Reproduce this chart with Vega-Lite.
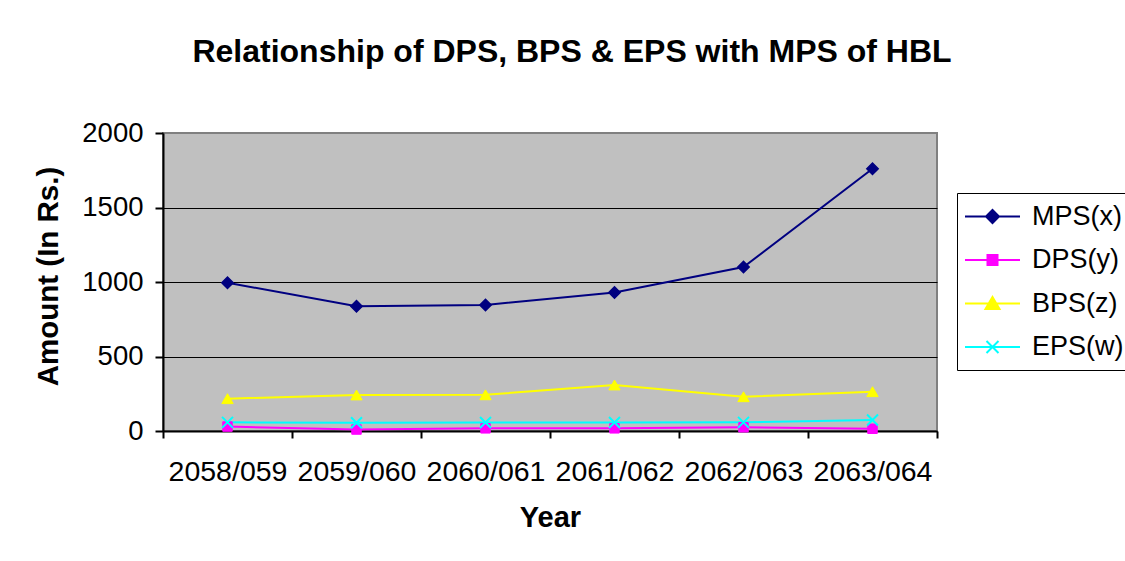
{
  "$schema": "https://vega.github.io/schema/vega-lite/v6.json",
  "width": 774,
  "height": 298,
  "autosize": {"type": "none"},
  "padding": {"left": 163, "top": 133, "right": 188, "bottom": 130},
  "background": "white",
  "title": {
    "text": "Relationship of DPS, BPS & EPS with MPS of HBL",
    "font": "Liberation Sans",
    "fontSize": 32,
    "fontWeight": "bold",
    "color": "black",
    "anchor": "middle",
    "frame": "group",
    "dx": 22,
    "offset": 50
  },
  "data": {
    "values": [
      {"year": "2058/059", "series": "MPS(x)", "value": 995},
      {"year": "2059/060", "series": "MPS(x)", "value": 837},
      {"year": "2060/061", "series": "MPS(x)", "value": 846},
      {"year": "2061/062", "series": "MPS(x)", "value": 930},
      {"year": "2062/063", "series": "MPS(x)", "value": 1100},
      {"year": "2063/064", "series": "MPS(x)", "value": 1760},
      {"year": "2058/059", "series": "DPS(y)", "value": 30},
      {"year": "2059/060", "series": "DPS(y)", "value": 10},
      {"year": "2060/061", "series": "DPS(y)", "value": 18},
      {"year": "2061/062", "series": "DPS(y)", "value": 18},
      {"year": "2062/063", "series": "DPS(y)", "value": 25},
      {"year": "2063/064", "series": "DPS(y)", "value": 15},
      {"year": "2058/059", "series": "BPS(z)", "value": 217},
      {"year": "2059/060", "series": "BPS(z)", "value": 242},
      {"year": "2060/061", "series": "BPS(z)", "value": 243},
      {"year": "2061/062", "series": "BPS(z)", "value": 309},
      {"year": "2062/063", "series": "BPS(z)", "value": 230},
      {"year": "2063/064", "series": "BPS(z)", "value": 264},
      {"year": "2058/059", "series": "EPS(w)", "value": 58},
      {"year": "2059/060", "series": "EPS(w)", "value": 55},
      {"year": "2060/061", "series": "EPS(w)", "value": 57},
      {"year": "2061/062", "series": "EPS(w)", "value": 57},
      {"year": "2062/063", "series": "EPS(w)", "value": 58},
      {"year": "2063/064", "series": "EPS(w)", "value": 74}
    ]
  },
  "encoding": {
    "x": {
      "field": "year",
      "type": "nominal",
      "sort": null,
      "scale": {"type": "band", "paddingInner": 0, "paddingOuter": 0},
      "title": "Year",
      "axis": {
        "labelAngle": 0,
        "tickBand": "extent",
        "grid": false,
        "domainColor": "black",
        "domainWidth": 2,
        "tickColor": "black",
        "tickWidth": 2,
        "tickSize": 7,
        "labelFontSize": 28.5,
        "labelPadding": 19,
        "titleFontSize": 29,
        "titlePadding": 18
      }
    },
    "y": {
      "field": "value",
      "type": "quantitative",
      "scale": {"domain": [0, 2000], "nice": false},
      "title": "Amount (In Rs.)",
      "axis": {
        "values": [0, 500, 1000, 1500, 2000],
        "format": "d",
        "grid": true,
        "gridColor": {"condition": {"test": "datum.value == 2000", "value": "#808080"}, "value": "black"},
        "gridWidth": 1,
        "domainColor": "black",
        "domainWidth": 2,
        "tickColor": "black",
        "tickWidth": 2,
        "tickSize": 8,
        "labelFontSize": 27.5,
        "labelPadding": 12,
        "titleFontSize": 29.5,
        "titlePadding": 18,
        "titleY": 143
      }
    },
    "color": {
      "field": "series",
      "type": "nominal",
      "sort": null,
      "scale": {"domain": ["MPS(x)", "DPS(y)", "BPS(z)", "EPS(w)"], "range": ["#000080", "#FF00FF", "#FFFF00", "#00FFFF"]},
      "legend": {
        "orient": "none",
        "legendX": 794,
        "legendY": 60,
        "title": null,
        "strokeColor": "black",
        "padding": 10,
        "labelFontSize": 27,
        "labelColor": "black",
        "symbolSize": 400,
        "symbolOffset": 12,
        "labelOffset": 26,
        "rowPadding": 15.5,
        "symbolStrokeWidth": 2,
        "symbolOpacity": 1,
        "symbolType": {"expr": "datum.value == 'MPS(x)' ? 'M-2.75,0H2.75M0,-0.65L0.65,0L0,0.65L-0.65,0Z' : datum.value == 'DPS(y)' ? 'M-2.75,0H2.75M-0.5,-0.5H0.5V0.5H-0.5Z' : datum.value == 'BPS(z)' ? 'M-2.75,0H2.75M0,-0.65L0.7,0.55L-0.7,0.55Z' : 'M-2.75,0H2.75M-0.6,-0.6L0.6,0.6M-0.6,0.6L0.6,-0.6'"}
      }
    }
  },
  "layer": [
    {
      "mark": {"type": "line", "strokeWidth": 2}
    },
    {
      "transform": [{"filter": "datum.series == 'MPS(x)'"}],
      "mark": {"type": "point", "filled": true, "opacity": 1, "size": 130, "shape": "diamond", "stroke": "#000080", "strokeWidth": 1.5}
    },
    {
      "transform": [{"filter": "datum.series == 'DPS(y)'"}],
      "mark": {"type": "point", "filled": true, "opacity": 1, "size": 90, "shape": "square", "stroke": "#FF00FF", "strokeWidth": 1}
    },
    {
      "transform": [{"filter": "datum.series == 'BPS(z)'"}],
      "mark": {"type": "point", "filled": true, "opacity": 1, "size": 130, "shape": "triangle-up", "stroke": "#FFFF00", "strokeWidth": 1}
    },
    {
      "transform": [{"filter": "datum.series == 'EPS(w)'"}],
      "mark": {"type": "point", "filled": true, "opacity": 1, "size": 120, "shape": "M-1,-1L1,1M-1,1L1,-1", "stroke": "#00FFFF", "strokeWidth": 2}
    }
  ],
  "config": {
    "font": "Liberation Sans",
    "view": {"fill": "#C0C0C0", "stroke": "#808080", "strokeWidth": 2},
    "axis": {"labelColor": "black", "titleColor": "black", "titleFontWeight": "bold", "labelFont": "Liberation Sans", "titleFont": "Liberation Sans"},
    "legend": {"labelFont": "Liberation Sans"}
  }
}
